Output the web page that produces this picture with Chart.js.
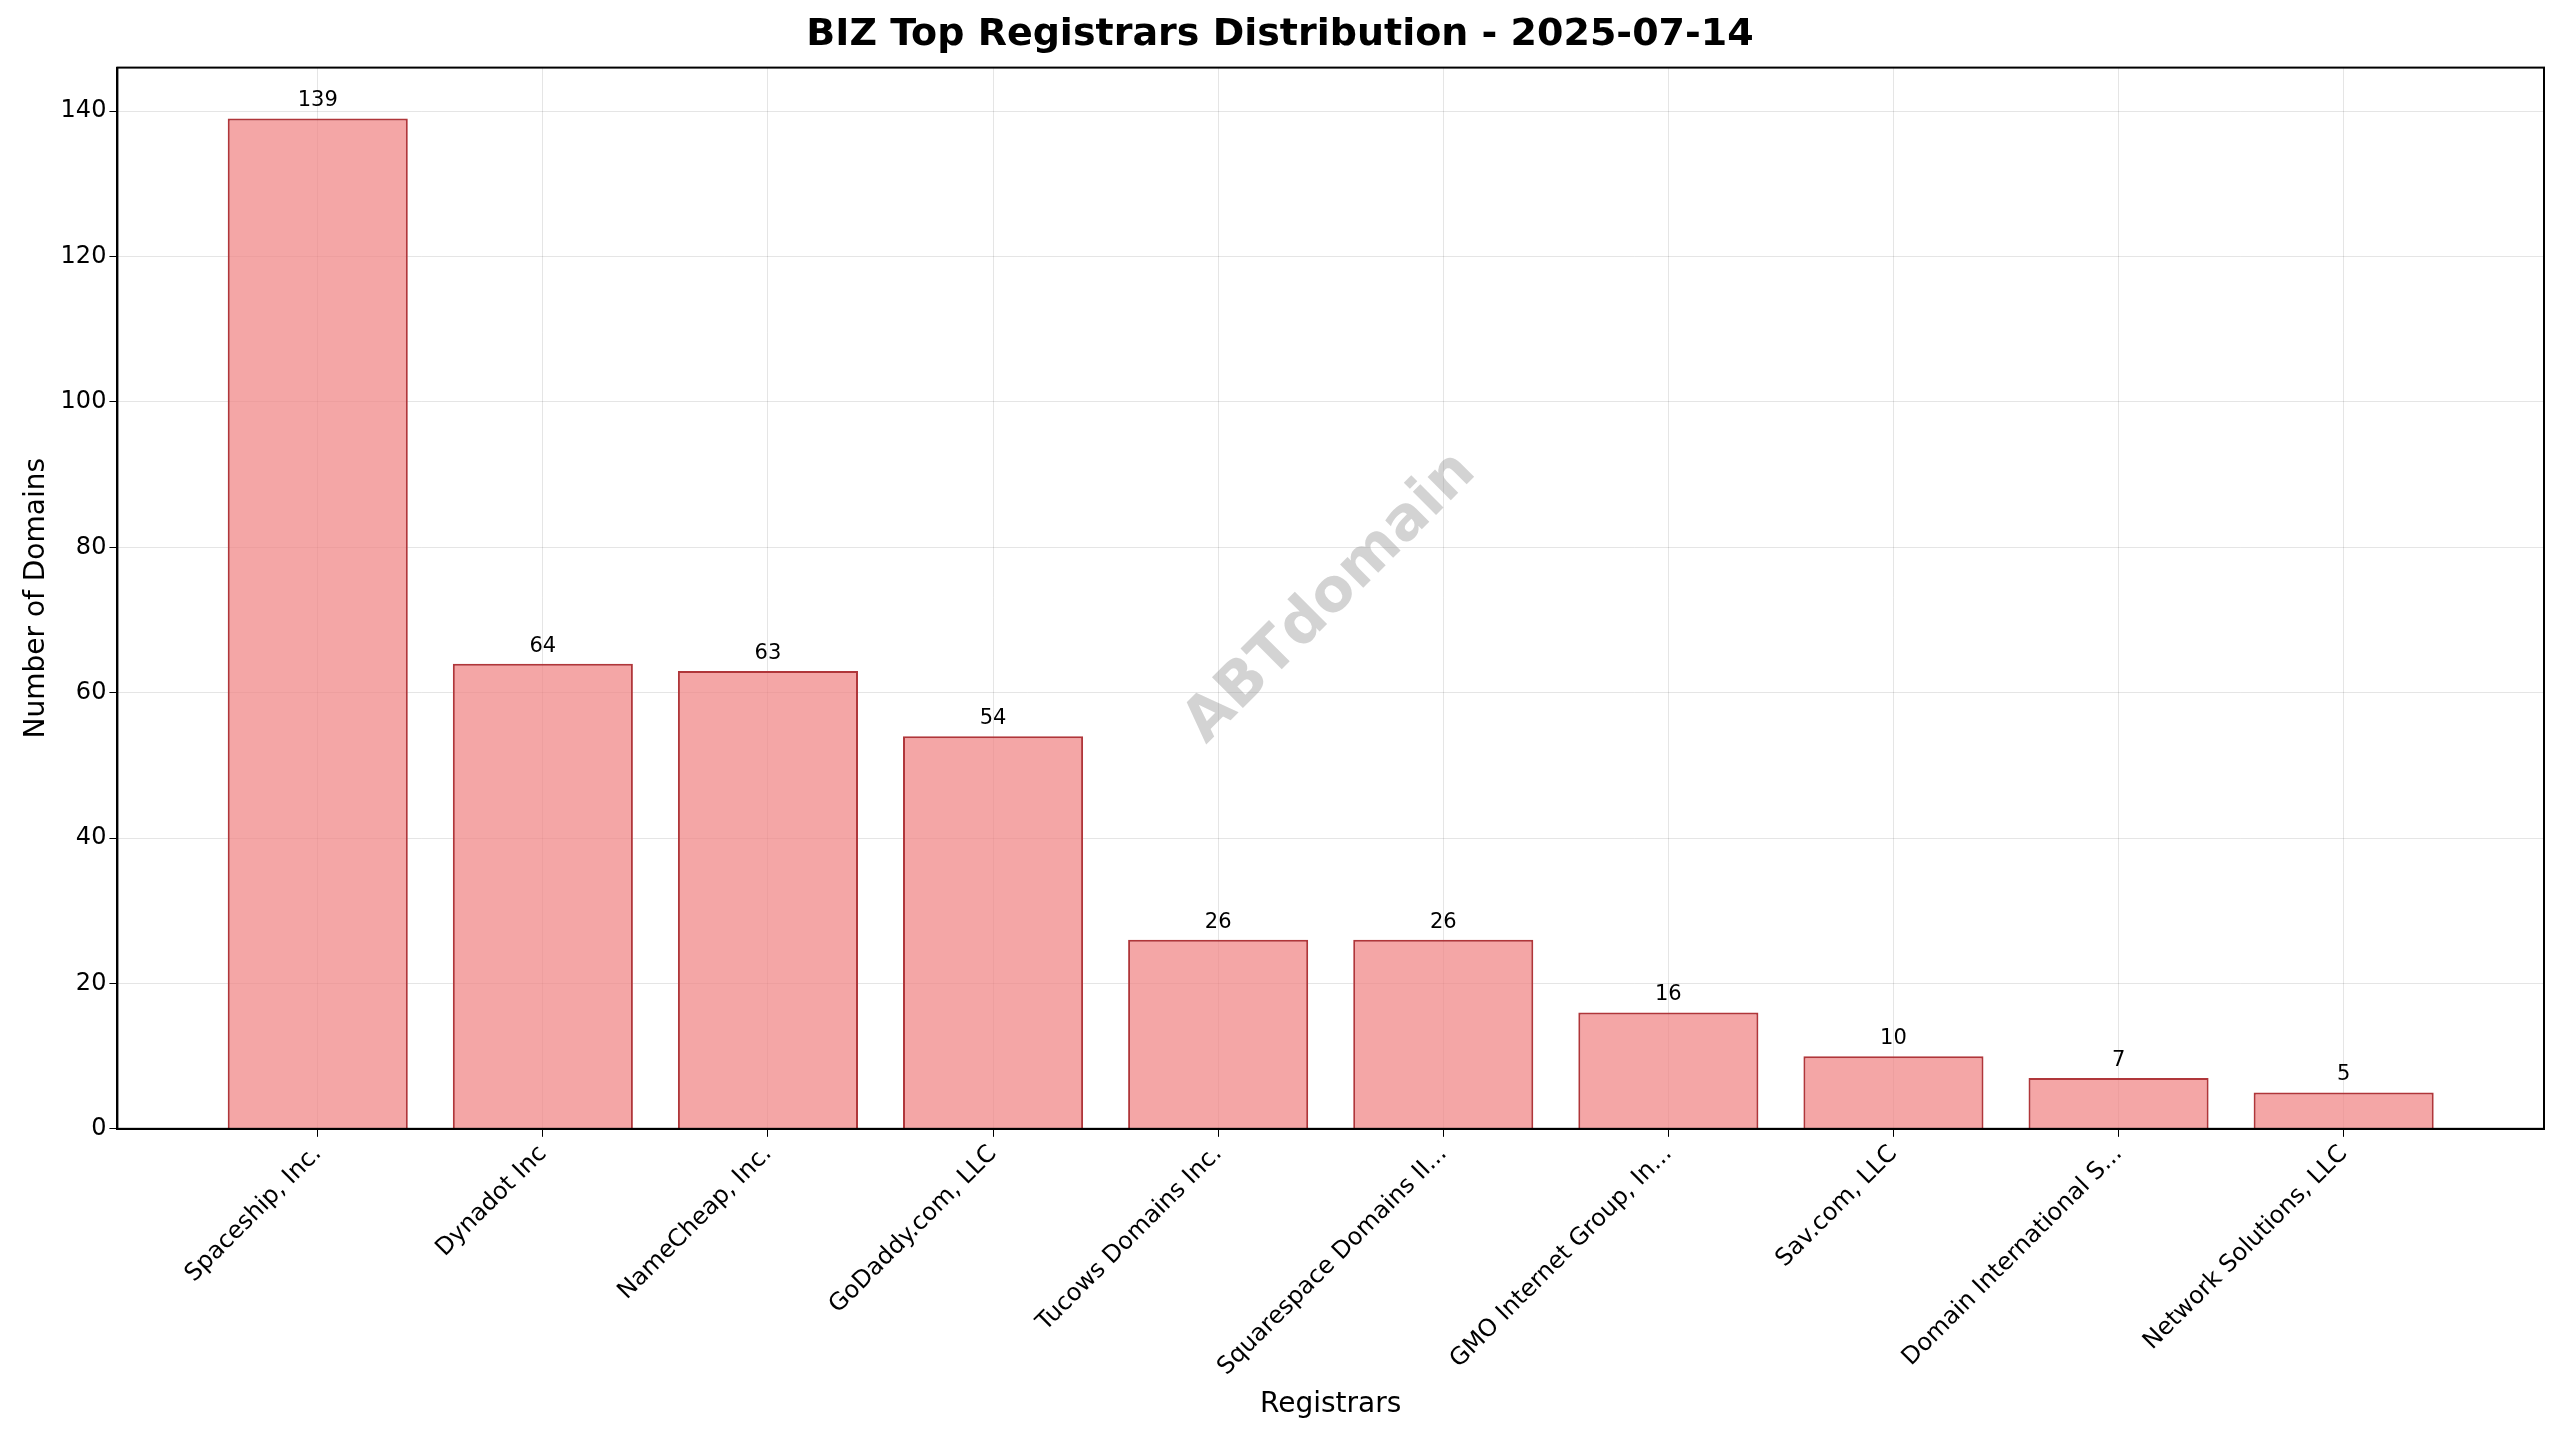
<!DOCTYPE html>
<html>
<head>
<meta charset="utf-8">
<script src="https://cdn.jsdelivr.net/npm/chart.js@4/dist/chart.umd.min.js"></script>
<style>
  html, body { margin: 0; padding: 0; background: #fff; }
  canvas { display: block; }
</style>
</head>
<body>
<canvas id="chart" width="2560" height="1456"></canvas>
<script>
const registrars = [
  'Spaceship, Inc.', 'Dynadot Inc', 'NameCheap, Inc.', 'GoDaddy.com, LLC',
  'Tucows Domains Inc.', 'Squarespace Domains II...', 'GMO Internet Group, In...',
  'Sav.com, LLC', 'Domain International S...', 'Network Solutions, LLC'
];
const domainCounts = [139, 64, 63, 54, 26, 26, 16, 10, 7, 5];
const yTicks = [0, 20, 40, 60, 80, 100, 120, 140];

const font = 'DejaVu Sans';

const valueLabels = {
  id: 'valueLabels',
  afterDatasetsDraw(chart) {
    const { ctx } = chart;
    const meta = chart.getDatasetMeta(0);
    ctx.save();
    ctx.font = `21px "${font}"`;
    ctx.fillStyle = '#000';
    ctx.textAlign = 'center';
    ctx.textBaseline = 'bottom';
    meta.data.forEach((bar, i) => {
      ctx.fillText(String(domainCounts[i]), bar.x, bar.y - 7);
    });
    ctx.restore();
  },
};

// watermark plus the full frame around the plot area
const decorations = {
  id: 'decorations',
  afterDatasetsDraw(chart) {
    const { ctx, chartArea } = chart;
    ctx.save();
    ctx.translate((chartArea.left + chartArea.right) / 2, (chartArea.top + chartArea.bottom) / 2);
    ctx.rotate(-Math.PI / 4);
    ctx.font = `bold 60px "${font}"`;
    ctx.fillStyle = 'rgba(128,128,128,0.35)';
    ctx.textAlign = 'center';
    ctx.textBaseline = 'middle';
    ctx.fillText('ABTdomain', 0, 0);
    ctx.restore();

    ctx.save();
    ctx.strokeStyle = '#000';
    ctx.lineWidth = 2;
    ctx.strokeRect(chartArea.left, chartArea.top, chartArea.right - chartArea.left, chartArea.bottom - chartArea.top);
    ctx.restore();
  },
};

new Chart(document.getElementById('chart'), {
  type: 'bar',
  data: {
    datasets: [{
      data: domainCounts.map((v, i) => ({ x: i, y: v })),
      backgroundColor: 'rgba(240,128,128,0.7)',
      borderColor: '#b0363a',
      borderWidth: 2,
      barPercentage: 0.8,
      categoryPercentage: 1,
    }],
  },
  options: {
    responsive: false,
    animation: false,
    devicePixelRatio: 1,
    layout: { padding: { left: 16, right: 16, top: 6, bottom: 30 } },
    plugins: {
      legend: { display: false },
      tooltip: { enabled: false },
      title: {
        display: true,
        text: 'BIZ Top Registrars Distribution - 2025-07-14',
        color: '#000',
        font: { family: font, size: 38, weight: 'bold' },
        padding: { top: 6, bottom: 10 },
      },
    },
    scales: {
      x: {
        type: 'linear',
        offset: false,
        min: -0.89,
        max: 9.89,
        afterBuildTicks(scale) {
          scale.ticks = registrars.map((_, i) => ({ value: i }));
        },
        ticks: {
          autoSkip: false,
          maxRotation: 45,
          minRotation: 45,
          color: '#000',
          font: { family: font, size: 24 },
          callback: (v) => registrars[v] ?? '',
        },
        grid: { offset: false, color: 'rgba(0,0,0,0.1)', tickColor: '#000', tickLength: 8 },
        border: { color: '#000', width: 2 },
        title: {
          display: true,
          text: 'Registrars',
          color: '#000',
          font: { family: font, size: 28 },
        },
      },
      y: {
        min: 0,
        max: 146,
        afterBuildTicks(scale) {
          scale.ticks = yTicks.map((v) => ({ value: v }));
        },
        ticks: {
          color: '#000',
          font: { family: font, size: 24 },
        },
        grid: { color: 'rgba(0,0,0,0.1)', tickColor: '#000', tickLength: 8 },
        border: { color: '#000', width: 2 },
        title: {
          display: true,
          text: 'Number of Domains',
          color: '#000',
          font: { family: font, size: 28 },
        },
      },
    },
  },
  plugins: [valueLabels, decorations],
});
</script>
</body>
</html>
